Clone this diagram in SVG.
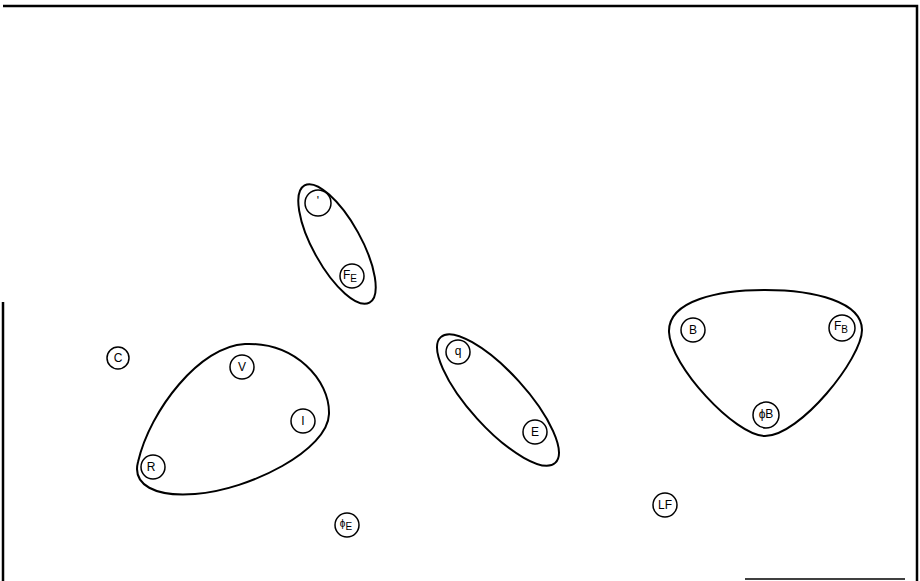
<svg xmlns="http://www.w3.org/2000/svg" width="920" height="581" viewBox="0 0 920 581">
<style>
.hull{fill:none;stroke:#000;stroke-width:2}
.nd{fill:#fff;stroke:#000;stroke-width:1.5}
.t{font-family:"Liberation Sans",Arial,sans-serif;font-size:12px;fill:#000;text-anchor:middle;dominant-baseline:central}
.s{font-size:10px}
.frame{stroke:#000;stroke-width:2.5;fill:none}
</style>
<rect width="920" height="581" fill="#fff"/>
<g id="frame">
<path class="frame" d="M3,6 H917 V581"/>
<path class="frame" d="M3,302 V581"/>
<path d="M745,579 H905" stroke="#000" stroke-width="1.5"/>
</g>
<g id="connectors"></g>
<g id="group-top">
<ellipse class="hull" cx="337" cy="244" rx="67" ry="24" transform="rotate(61 337 244)"/>
</g>
<g id="group-left">
<path class="hull" d="M138,462 C150,410 200,346 245,344 C295,342 330,380 329,414 C328,450 250,490 195,494 C155,497 132,485 138,462 Z"/>
</g>
<g id="group-mid">
<ellipse class="hull" cx="498" cy="400" rx="85" ry="28" transform="rotate(47.7 498 400)"/>
</g>
<g id="group-right">
<path class="hull" d="M669,332 C668,300 720,290 765,290 C815,290 862,302 862,330 C862,358 800,436 765,436 C735,436 670,365 669,332 Z"/>
</g>
<g id="n-dot"><circle class="nd" cx="318" cy="203" r="13"/><text class="t" x="318" y="201">'</text></g>
<g id="n-FE"><circle class="nd" cx="352" cy="276" r="12"/><text class="t" x="350" y="275">F<tspan class="s" dy="3">E</tspan></text></g>
<g id="n-C"><circle class="nd" cx="118" cy="358" r="11"/><text class="t" x="118" y="358">C</text></g>
<g id="n-V"><circle class="nd" cx="242" cy="367" r="12"/><text class="t" x="242" y="367">V</text></g>
<g id="n-I"><circle class="nd" cx="303" cy="421" r="12"/><text class="t" x="303" y="421">I</text></g>
<g id="n-R"><circle class="nd" cx="153" cy="467" r="12"/><text class="t" x="151" y="467">R</text></g>
<g id="n-q"><circle class="nd" cx="458" cy="352" r="12"/><text class="t" x="458" y="351">q</text></g>
<g id="n-E"><circle class="nd" cx="535" cy="432" r="12"/><text class="t" x="535" y="432">E</text></g>
<g id="n-B"><circle class="nd" cx="693" cy="330" r="12"/><text class="t" x="693" y="330">B</text></g>
<g id="n-FB"><circle class="nd" cx="842" cy="328" r="13"/><text class="t" x="841" y="326">F<tspan class="s" dy="3">B</tspan></text></g>
<g id="n-PhiB"><circle class="nd" cx="766" cy="415" r="13"/><text class="t" x="766" y="414">ϕB</text></g>
<g id="n-PhiE"><circle class="nd" cx="347" cy="525" r="12"/><text class="t" x="346" y="523"><tspan class="s">ϕ</tspan><tspan class="s" dy="3">E</tspan></text></g>
<g id="n-LF"><circle class="nd" cx="665" cy="505" r="12"/><text class="t" x="665" y="505">LF</text></g>
</svg>
